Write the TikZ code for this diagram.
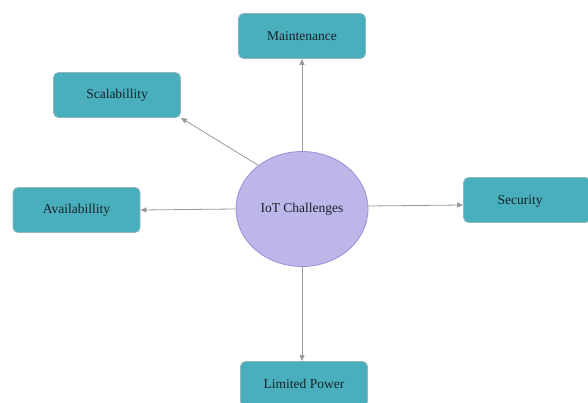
\documentclass[tikz,border=0pt]{standalone}
\usepackage{fontspec}
\setmainfont{Liberation Serif}
\usetikzlibrary{arrows.meta,shapes.geometric}
\definecolor{boxfill}{HTML}{4AAFBD}
\definecolor{boxline}{HTML}{8FB8BE}
\definecolor{ellfill}{HTML}{BDB6E9}
\definecolor{ellline}{HTML}{9A90D6}
\definecolor{arr}{HTML}{9A9A9A}
\definecolor{txt}{HTML}{16222A}
\tikzset{
  challenge/.style={draw=boxline, line width=0.8pt, fill=boxfill, rounded corners=5pt,
    minimum width=127pt, minimum height=45pt, inner sep=0pt,
    font=\fontsize{13.5}{15}\selectfont, text=txt},
  center/.style={draw=ellline, line width=0.8pt, fill=ellfill, ellipse,
    minimum width=132pt, minimum height=115pt, inner sep=0pt,
    font=\fontsize{13.5}{15}\selectfont, text=txt},
  link/.style={draw=arr, line width=0.8pt, -{Triangle[length=6pt,width=5pt]}}
}
\begin{document}
\begin{tikzpicture}[x=1pt,y=-1pt]
\useasboundingbox (0,0) rectangle (588,403);
\clip (0,0) rectangle (588,403);
\fill[white] (0,0) rectangle (588,403);
\node[center] (c) at (302,209) {IoT Challenges};
\node[challenge] (m) at (302,36) {Maintenance};
\node[challenge] (s) at (117,95) {Scalabillity};
\node[challenge] (a) at (76.5,210) {Availabillity};
\node[challenge] (se) at (527,200) {};
\node[text=txt, font=\fontsize{13.5}{15}\selectfont] (set) at (520,201) {Security};
\node[challenge] (l) at (304,384) {Limited Power};
\draw[link] (c.north) -- (m.south);
\draw[link] (c.135) -- (s.south east);
\draw[link] (c.west) -- (a.east);
\draw[link] ([yshift=3pt]c.east) -- ([yshift=-5pt]se.west);
\draw[link] (c.south) -- (c.south |- l.north);
\end{tikzpicture}
\end{document}
